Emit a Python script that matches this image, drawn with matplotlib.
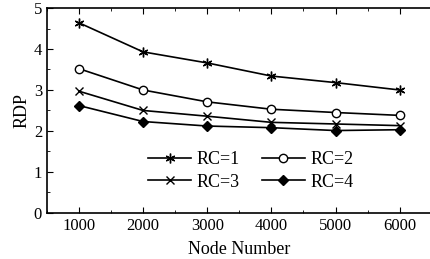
import matplotlib
matplotlib.use("Agg")
import matplotlib.pyplot as plt
from matplotlib.ticker import MultipleLocator

plt.rcParams["font.family"] = ["Liberation Serif", "DejaVu Serif"]

# Data
nodes = [1000, 2000, 3000, 4000, 5000, 6000]
rc1 = [4.64, 3.93, 3.66, 3.34, 3.18, 3.00]
rc2 = [3.52, 3.00, 2.71, 2.53, 2.45, 2.38]
rc3 = [2.97, 2.50, 2.36, 2.21, 2.17, 2.13]
rc4 = [2.62, 2.23, 2.12, 2.08, 2.01, 2.03]
labels = ["RC=1", "RC=2", "RC=3", "RC=4"]

fig = plt.figure(figsize=(4.3, 2.59), dpi=100)
ax = fig.add_axes([0.109, 0.178, 0.895, 0.791])

ms = 6
l1, = ax.plot(nodes, rc1, color="black", lw=1.2, marker=(6, 2, 0), ms=ms + 1, mew=1.0, label=labels[0])
l2, = ax.plot(nodes, rc2, color="black", lw=1.2, marker="o", ms=ms, mfc="white", mew=1.0, label=labels[1])
l3, = ax.plot(nodes, rc3, color="black", lw=1.2, marker="x", ms=ms, mew=1.0, label=labels[2])
l4, = ax.plot(nodes, rc4, color="black", lw=1.2, marker="D", ms=ms - 0.5, mfc="black", label=labels[3])

ax.set_xlim(500, 6500)
ax.set_ylim(0, 5)
ax.xaxis.set_major_locator(MultipleLocator(1000))
ax.xaxis.set_minor_locator(MultipleLocator(500))
ax.yaxis.set_major_locator(MultipleLocator(1))
ax.yaxis.set_minor_locator(MultipleLocator(0.5))
ax.tick_params(which="both", direction="in", top=True, right=False, labelsize=12)
ax.tick_params(which="major", length=4)
ax.tick_params(which="minor", length=2)
for s in ax.spines.values():
    s.set_linewidth(1.2)

ax.set_xlabel("Node Number", fontsize=13, labelpad=5)
ax.set_ylabel("RDP", fontsize=13, labelpad=2)

# legend fills column-wise, so order handles to read RC=1, RC=2 / RC=3, RC=4 by row
ax.legend([l1, l3, l2, l4], [labels[0], labels[2], labels[1], labels[3]],
          ncol=2, frameon=False, fontsize=13, loc="lower center",
          bbox_to_anchor=(0.53, 0.03), handlelength=2.4, columnspacing=1.2,
          handletextpad=0.3, labelspacing=0.3)

fig.savefig("out.png", dpi=100)
